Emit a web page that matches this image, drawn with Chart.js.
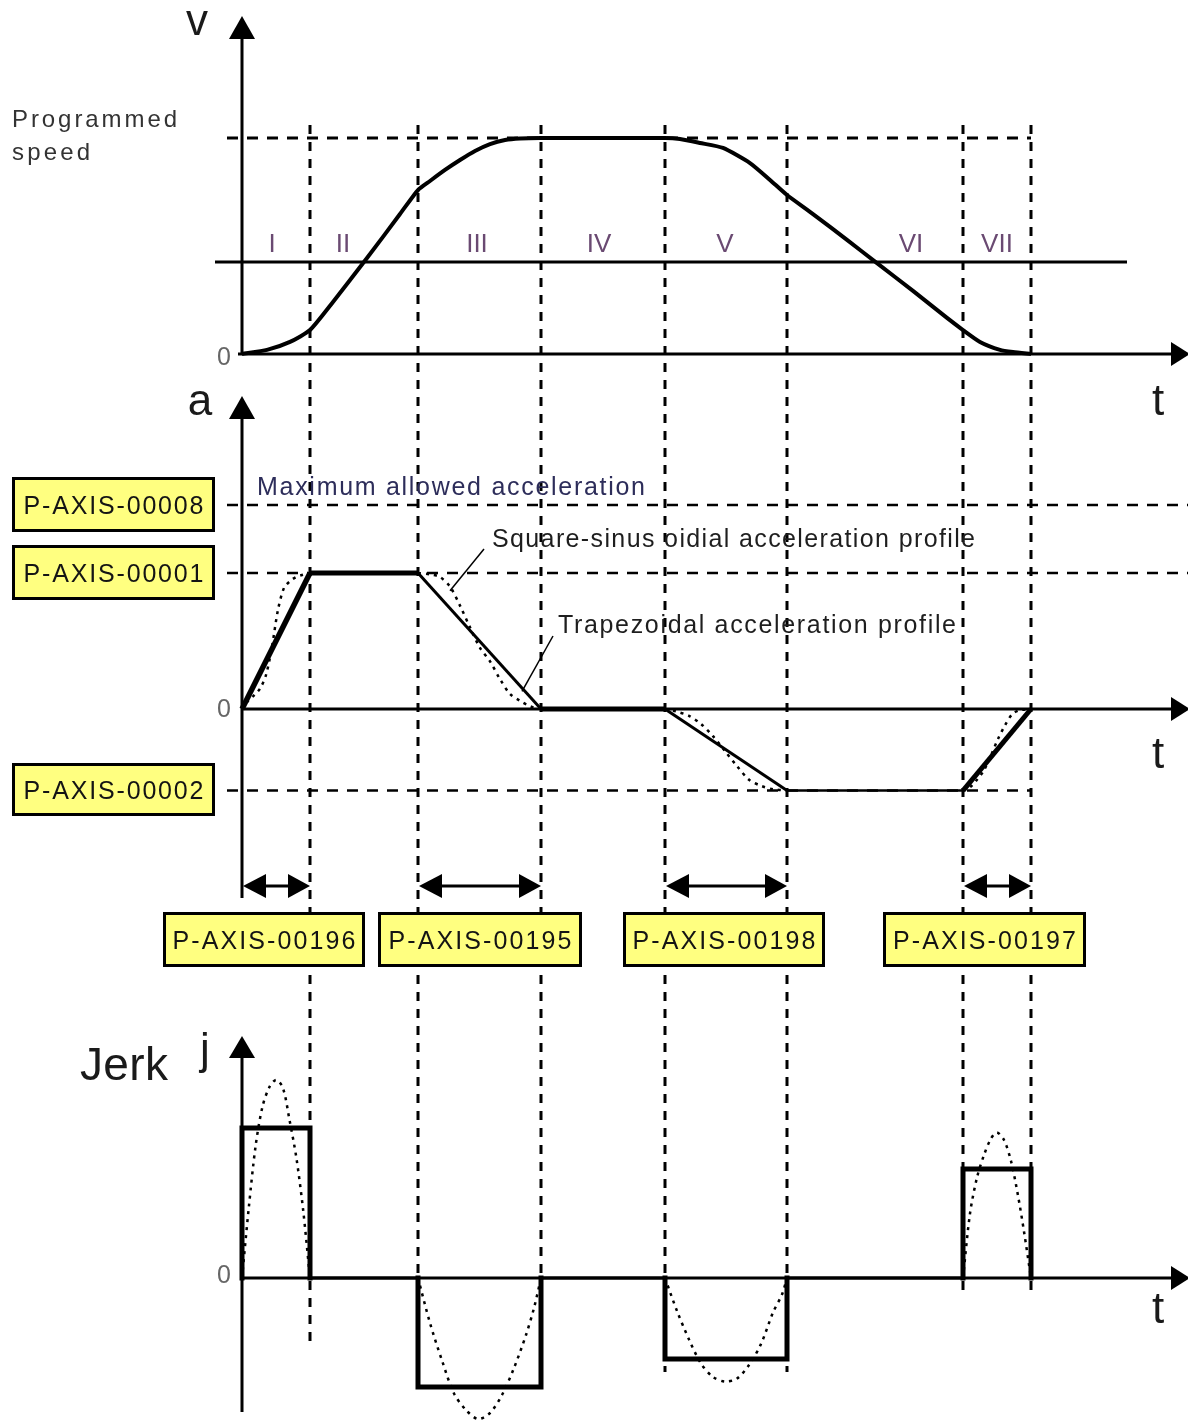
<!DOCTYPE html>
<html><head><meta charset="utf-8">
<script src="https://cdn.jsdelivr.net/npm/chart.js@4.4.1/dist/chart.umd.min.js"></script>
<style>html,body{margin:0;padding:0;background:#fff;}#wrap{width:1188px;height:1420px;position:relative;}</style>
</head><body><div id="wrap"><canvas id="c" width="1188" height="1420"></canvas></div>
<script>
// ---------- DATA ----------
// phase boundaries on the time axis (arbitrary time units)
const phaseTimes = [0, 6.8, 17.6, 29.9, 42.3, 54.5, 72.1, 78.9];
const phaseLabels = ['I', 'II', 'III', 'IV', 'V', 'VI', 'VII'];
const phaseLabelTimes = [3.0, 10.1, 23.5, 35.7, 48.3, 66.9, 75.5];

// velocity profile (programmed speed = 1)
const velT = [0, 2.5, 4.8, 6.8, 9.1, 12.5, 15.8, 17.6, 18.8, 20.3, 21.8, 23.3, 24.8, 26.3, 27.8, 29.9, 42.3, 43.8, 45.8, 48.1, 50.8, 52.8, 54.5, 57.1, 60.5, 63.5, 67.1, 70.5, 72.1, 73.8, 75.8, 77.1, 78.9];
const velV = [0, 0.019, 0.056, 0.111, 0.241, 0.444, 0.648, 0.759, 0.801, 0.852, 0.898, 0.940, 0.972, 0.991, 0.998, 1.0, 1.0, 0.995, 0.977, 0.954, 0.884, 0.806, 0.736, 0.648, 0.528, 0.421, 0.292, 0.167, 0.111, 0.056, 0.019, 0.009, 0];
const programmedSpeed = 1;
const speedLineLevel = 0.426;

// acceleration levels
const maxAllowedAcc = 1.5;   // P-AXIS-00008
const accLevel = 1.0;        // P-AXIS-00001
const decLevel = -0.6;       // P-AXIS-00002

// trapezoidal acceleration at the phase boundaries
const trapAcc = [0, 1.0, 1.0, 0, 0, -0.6, -0.6, 0];

// square-sinusoidal acceleration (dotted), per phase
const sinAccT1 = [0, 0.6, 1.2, 1.8, 2.4, 3.0, 3.6, 4.2, 4.8, 5.4, 6.0, 6.8];
const sinAccA1 = [0, 0.06, 0.10, 0.15, 0.25, 0.46, 0.73, 0.89, 0.94, 0.97, 0.985, 1.0];
const sinAccT3 = [17.6, 18.8, 19.8, 20.8, 21.8, 22.8, 23.8, 24.8, 25.8, 26.8, 27.8, 28.8, 29.9];
const sinAccA3 = [1.0, 0.99, 0.97, 0.90, 0.76, 0.60, 0.45, 0.35, 0.22, 0.11, 0.06, 0.02, 0];
const sinAccT5 = [42.3, 43.5, 44.7, 45.9, 47.1, 48.3, 49.5, 50.7, 51.9, 53.1, 54.5];
const sinAccA5 = [0, -0.02, -0.05, -0.11, -0.20, -0.31, -0.42, -0.52, -0.565, -0.59, -0.6];
const sinAccT7 = [72.1, 72.8, 73.5, 74.2, 74.9, 75.6, 76.3, 77.0, 77.7, 78.9];
const sinAccA7 = [-0.6, -0.575, -0.52, -0.45, -0.34, -0.22, -0.12, -0.04, -0.01, 0];

// jerk of the trapezoidal profile, one level per phase
const jerkLevels = [1.0, 0, -0.727, 0, -0.54, 0, 0.727];

// jerk of the square-sinusoidal profile (dotted)
const sinJerkT1 = [0, 0.68, 1.36, 2.04, 2.72, 3.4, 4.08, 4.76, 5.44, 6.12, 6.8];
const sinJerkJ1 = [0, 0.47, 0.88, 1.14, 1.27, 1.32, 1.27, 1.05, 0.80, 0.45, 0];
const sinJerkT3 = [17.6, 18.8, 20.0, 21.2, 22.4, 23.6, 24.8, 26.0, 27.2, 28.4, 29.2, 29.9];
const sinJerkJ3 = [0, -0.30, -0.55, -0.77, -0.88, -0.94, -0.90, -0.78, -0.60, -0.38, -0.20, 0];
const sinJerkT5 = [42.3, 43.5, 44.7, 45.9, 47.1, 48.3, 49.5, 50.7, 51.9, 53.1, 54.0, 54.5];
const sinJerkJ5 = [0, -0.22, -0.41, -0.57, -0.66, -0.69, -0.67, -0.58, -0.44, -0.23, -0.11, 0];
const sinJerkT7 = [72.1, 72.8, 73.5, 74.2, 74.9, 75.5, 76.2, 76.9, 77.6, 78.2, 78.9];
const sinJerkJ7 = [0, 0.43, 0.67, 0.82, 0.93, 0.97, 0.92, 0.78, 0.55, 0.31, 0];

// parameter labels
const accParamLabels = ['P-AXIS-00008', 'P-AXIS-00001', 'P-AXIS-00002'];
const timeParamLabels = ['P-AXIS-00196', 'P-AXIS-00195', 'P-AXIS-00198', 'P-AXIS-00197'];
const timeParamPhases = [[0, 1], [2, 3], [4, 5], [6, 7]];

// ---------- BUILD ----------
const zip = (xs, ys) => xs.map((x, i) => ({x, y: ys[i]}));
const trapPts = zip(phaseTimes, trapAcc);
const jerkPts = [];
jerkLevels.forEach((j, i) => {
  jerkPts.push({x: phaseTimes[i], y: 0}, {x: phaseTimes[i], y: j},
               {x: phaseTimes[i + 1], y: j}, {x: phaseTimes[i + 1], y: 0});
});

const H = 1420;
function yRange(zeroPx, unitPx) { const max = zeroPx / unitPx; return {min: max - H / unitPx, max}; }
const rv = yRange(354, 216), ra = yRange(709, 136), rj = yRange(1278, 150);

const FONT = '"Liberation Sans", Arial, sans-serif';
function txt(ctx, s, x, y, size, color, target, align) {
  ctx.save();
  ctx.font = size + 'px ' + FONT;
  ctx.fillStyle = color; ctx.textBaseline = 'alphabetic'; ctx.textAlign = 'left';
  const w = ctx.measureText(s).width;
  let left = x;
  if (target) {
    if (align === 'center') left = x - target / 2;
    const extra = (target - w) / Math.max(1, s.length - 1);
    if ('letterSpacing' in ctx && extra > 0) { ctx.letterSpacing = extra + 'px'; ctx.fillText(s, left, y); }
    else { ctx.translate(left, y); ctx.scale(target / w, 1); ctx.fillText(s, 0, 0); }
  } else {
    if (align === 'center') left = x - w / 2; else if (align === 'right') left = x - w;
    ctx.fillText(s, left, y);
  }
  ctx.restore();
}
function line(ctx, x1, y1, x2, y2, w, dash) {
  ctx.save(); ctx.beginPath(); ctx.lineWidth = w; ctx.strokeStyle = '#000';
  ctx.setLineDash(dash || []); ctx.moveTo(x1, y1); ctx.lineTo(x2, y2); ctx.stroke(); ctx.restore();
}
function tri(ctx, pts) {
  ctx.save(); ctx.beginPath(); ctx.fillStyle = '#000';
  ctx.moveTo(pts[0], pts[1]); ctx.lineTo(pts[2], pts[3]); ctx.lineTo(pts[4], pts[5]); ctx.closePath(); ctx.fill(); ctx.restore();
}
function box(ctx, x, y, w, h, label, textW) {
  ctx.save();
  ctx.fillStyle = '#ffff80'; ctx.fillRect(x, y, w, h);
  ctx.lineWidth = 3; ctx.strokeStyle = '#000'; ctx.strokeRect(x + 1.5, y + 1.5, w - 3, h - 3);
  ctx.restore();
  txt(ctx, label, x + w / 2, y + h / 2 + 9, 25, '#141414', textW, 'center');
}

const diagram = {
  id: 'diagram',
  beforeDatasetsDraw(chart) {
    const ctx = chart.ctx, X = chart.scales.x, V = chart.scales.yv, A = chart.scales.ya, J = chart.scales.yj;
    const px = t => X.getPixelForValue(t);
    const vDash = [9, 8], hDash = [11, 9];
    // vertical phase boundaries
    const bottoms = [null, 1342, 1387, 1387, 1372, 1372, 1290, 1290];
    for (let i = 1; i < phaseTimes.length; i++) line(ctx, px(phaseTimes[i]), 125, px(phaseTimes[i]), bottoms[i], 3, vDash);
    // horizontal reference levels
    line(ctx, 227, V.getPixelForValue(programmedSpeed), px(phaseTimes[7]), V.getPixelForValue(programmedSpeed), 3, hDash);
    line(ctx, 227, A.getPixelForValue(maxAllowedAcc), 1188, A.getPixelForValue(maxAllowedAcc), 2.5, hDash);
    line(ctx, 227, A.getPixelForValue(accLevel), 1188, A.getPixelForValue(accLevel), 2.5, hDash);
    line(ctx, 227, A.getPixelForValue(decLevel), px(phaseTimes[7]), A.getPixelForValue(decLevel), 2.5, hDash);
    // solid speed line
    line(ctx, 215, V.getPixelForValue(speedLineLevel), 1127, V.getPixelForValue(speedLineLevel), 3);
    // axes
    const x0 = px(0);
    const v0 = V.getPixelForValue(0), a0 = A.getPixelForValue(0), j0 = J.getPixelForValue(0);
    line(ctx, x0, 36, x0, v0 + 1, 3); tri(ctx, [x0, 16, x0 - 13, 39, x0 + 13, 39]);
    line(ctx, 238, v0, 1175, v0, 3); tri(ctx, [1190, v0, 1171, v0 - 12, 1171, v0 + 12]);
    line(ctx, x0, 416, x0, 898, 3); tri(ctx, [x0, 396, x0 - 13, 419, x0 + 13, 419]);
    line(ctx, x0, a0, 1175, a0, 3); tri(ctx, [1190, a0, 1171, a0 - 12, 1171, a0 + 12]);
    line(ctx, x0, 1055, x0, 1412, 3); tri(ctx, [x0, 1036, x0 - 13, 1058, x0 + 13, 1058]);
    line(ctx, x0, j0, 1175, j0, 3); tri(ctx, [1190, j0, 1171, j0 - 12, 1171, j0 + 12]);
  },
  afterDatasetsDraw(chart) {
    const ctx = chart.ctx, X = chart.scales.x, V = chart.scales.yv, A = chart.scales.ya, J = chart.scales.yj;
    const px = t => X.getPixelForValue(t);
    // axis labels
    txt(ctx, 'v', 197, 35, 44, '#1a1a1a', 0, 'center');
    txt(ctx, 'a', 200, 415, 44, '#1a1a1a', 0, 'center');
    txt(ctx, 'j', 205, 1064, 44, '#1a1a1a', 0, 'center');
    txt(ctx, 'Jerk', 80, 1080, 46, '#1a1a1a', 88);
    txt(ctx, 't', 1158, 415, 44, '#1a1a1a', 0, 'center');
    txt(ctx, 't', 1158, 768, 44, '#1a1a1a', 0, 'center');
    txt(ctx, 't', 1158, 1323, 44, '#1a1a1a', 0, 'center');
    txt(ctx, '0', 231, V.getPixelForValue(0) + 11, 25, '#666', 0, 'right');
    txt(ctx, '0', 231, A.getPixelForValue(0) + 8, 25, '#666', 0, 'right');
    txt(ctx, '0', 231, J.getPixelForValue(0) + 5, 25, '#666', 0, 'right');
    // texts
    txt(ctx, 'Programmed', 12, 127, 24, '#333', 165);
    txt(ctx, 'speed', 12, 160, 24, '#333', 78);
    txt(ctx, 'Maximum allowed acceleration', 257, 495, 25, '#2d2d5a', 388);
    txt(ctx, 'Square-sinus oidial acceleration profile', 492, 547, 25, '#1e1e1e', 483);
    txt(ctx, 'Trapezoidal acceleration profile', 558, 633, 25, '#1e1e1e', 398);
    // leader lines
    line(ctx, 484, 549, px(20.8), A.getPixelForValue(0.87), 1.5);
    line(ctx, 553, 636, px(28.0), A.getPixelForValue(0.13), 1.5);
    // phase numerals
    phaseLabels.forEach((l, i) => txt(ctx, l, px(phaseLabelTimes[i]), 252, 26, '#6a4a72', 0, 'center'));
    // acceleration parameter boxes
    box(ctx, 12, 477, 203, 55, accParamLabels[0], 180);
    box(ctx, 12, 545, 203, 55, accParamLabels[1], 180);
    box(ctx, 12, 763, 203, 53, accParamLabels[2], 180);
    // time dimension arrows and boxes
    const boxX = [[163, 365], [378, 582], [623, 825], [883, 1086]];
    const ay = 886;
    timeParamPhases.forEach((p, i) => {
      const xa = px(phaseTimes[p[0]]), xb = px(phaseTimes[p[1]]);
      line(ctx, xa + 10, ay, xb - 10, ay, 3);
      tri(ctx, [xa + 1, ay, xa + 24, ay - 12, xa + 24, ay + 12]);
      tri(ctx, [xb, ay, xb - 22, ay - 12, xb - 22, ay + 12]);
      box(ctx, boxX[i][0], 912, boxX[i][1] - boxX[i][0], 55, timeParamLabels[i], 183);
    });
  }
};

const trapWidths = [5.5, 5, 3, 5, 3, 2.5, 5];
const dotted = {borderColor: '#000', borderWidth: 2.5, borderDash: [3, 5], pointRadius: 0, showLine: true, tension: 0.3};

new Chart(document.getElementById('c'), {
  type: 'scatter',
  data: {
    datasets: [
      {data: zip(velT, velV), yAxisID: 'yv', borderColor: '#000', borderWidth: 4, pointRadius: 0, showLine: true, tension: 0.2},
      Object.assign({data: zip(sinAccT1, sinAccA1), yAxisID: 'ya'}, dotted),
      Object.assign({data: zip(sinAccT3, sinAccA3), yAxisID: 'ya'}, dotted),
      Object.assign({data: zip(sinAccT5, sinAccA5), yAxisID: 'ya'}, dotted),
      Object.assign({data: zip(sinAccT7, sinAccA7), yAxisID: 'ya'}, dotted),
      {data: trapPts, yAxisID: 'ya', borderColor: '#000', borderWidth: 4, pointRadius: 0, showLine: true, borderJoinStyle: 'round',
       segment: {borderWidth: c => trapWidths[c.p0DataIndex]}},
      Object.assign({data: zip(sinJerkT1, sinJerkJ1), yAxisID: 'yj'}, dotted),
      Object.assign({data: zip(sinJerkT3, sinJerkJ3), yAxisID: 'yj'}, dotted),
      Object.assign({data: zip(sinJerkT5, sinJerkJ5), yAxisID: 'yj'}, dotted),
      Object.assign({data: zip(sinJerkT7, sinJerkJ7), yAxisID: 'yj'}, dotted),
      {data: jerkPts, yAxisID: 'yj', borderColor: '#000', borderWidth: 5, pointRadius: 0, showLine: true, borderJoinStyle: 'miter', borderCapStyle: 'square',
       segment: {borderWidth: c => (c.p0.parsed.y === 0 && c.p1.parsed.y === 0) ? 3 : 5}}
    ]
  },
  options: {
    responsive: false, animation: false, devicePixelRatio: 1,
    layout: {padding: 0},
    plugins: {legend: {display: false}, tooltip: {enabled: false}, title: {display: false}},
    events: [],
    scales: {
      x: {type: 'linear', min: -24.2, max: 94.6, display: false},
      yv: {type: 'linear', position: 'left', min: rv.min, max: rv.max, display: false},
      ya: {type: 'linear', position: 'left', min: ra.min, max: ra.max, display: false},
      yj: {type: 'linear', position: 'left', min: rj.min, max: rj.max, display: false}
    }
  },
  plugins: [diagram]
});
</script>
</body></html>
